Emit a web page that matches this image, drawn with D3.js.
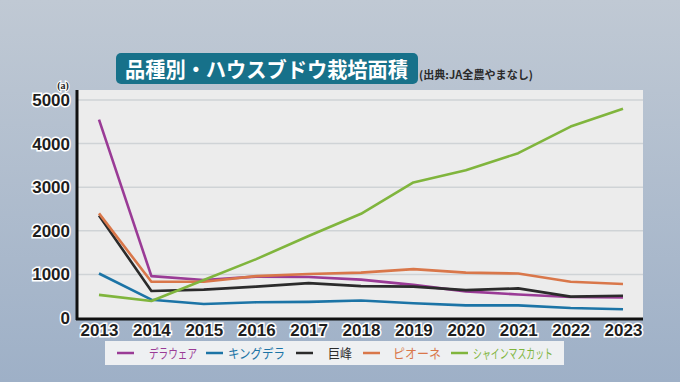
<!DOCTYPE html>
<html><head><meta charset="utf-8">
<script src="https://cdn.jsdelivr.net/npm/d3@7"></script>
<style>body{margin:0;padding:0;overflow:hidden}svg{display:block}</style>
</head><body>
<script>
const years = [2013,2014,2015,2016,2017,2018,2019,2020,2021,2022,2023];
const seriesNames = ["デラウェア","キングデラ","巨峰","ピオーネ","シャインマスカット"];
const delaware = [4550,960,870,950,940,880,760,610,540,480,470];
const kingDela = [1020,420,320,360,370,400,340,290,290,230,200];
const kyoho = [2350,620,650,720,800,730,720,640,680,490,510];
const pione = [2400,830,830,960,1010,1040,1120,1040,1020,830,780];
const shine = [530,390,870,1350,1880,2390,3110,3390,3780,4390,4800];
const yTicks = [0,1000,2000,3000,4000,5000];
const colors = ["#9a3b96","#1c74a6","#2b2b2b","#d9774a","#80b53d"];
const allSeries = [delaware,kingDela,kyoho,pione,shine];

(function(){
const W=680,H=382;
const svg=d3.select("body").append("svg").attr("width",W).attr("height",H);
const defs=svg.append("defs");
const bg=defs.append("linearGradient").attr("id","bg").attr("x1",0).attr("y1",0).attr("x2",0).attr("y2",1);
bg.append("stop").attr("offset","0%").attr("stop-color","#c0c9d4");
bg.append("stop").attr("offset","100%").attr("stop-color","#9eb0c7");
svg.append("rect").attr("width",W).attr("height",H).attr("fill","url(#bg)");

const pL=77,pR=643,pT=90,pB=318;
const x=d3.scalePoint().domain(years).range([99,623]);
const y=d3.scaleLinear().domain([0,5000]).range([pB,100]);

svg.append("rect").attr("x",pL).attr("y",pT).attr("width",pR-pL).attr("height",pB-pT).attr("fill","#ececec");

svg.append("g").selectAll("line").data(yTicks.filter(d=>d>0)).join("line")
 .attr("x1",pL).attr("x2",pR).attr("y1",d=>y(d)).attr("y2",d=>y(d))
 .attr("stroke","#cfd3d6").attr("stroke-width",1.5);

const yAxis=d3.axisLeft(y).tickValues(yTicks).tickSize(0).tickPadding(6).tickFormat(d3.format("d"));
const ya=svg.append("g").attr("transform",`translate(${pL},0)`).call(yAxis);
ya.select(".domain").remove();
ya.selectAll("text").attr("font-family","Liberation Sans, Arial, sans-serif").attr("font-weight","bold")
 .attr("font-size",17).attr("fill","#1e1e1e").attr("stroke","#ffffff").attr("stroke-width",3).attr("paint-order","stroke").attr("dx",-1);

const xAxis=d3.axisBottom(x).tickSize(0).tickPadding(6).tickFormat(d3.format("d"));
const xa=svg.append("g").attr("transform",`translate(0,${pB})`).call(xAxis);
xa.select(".domain").remove();
xa.selectAll("text").attr("font-family","Liberation Sans, Arial, sans-serif").attr("font-weight","bold")
 .attr("font-size",17).attr("fill","#1e1e1e").attr("stroke","#ffffff").attr("stroke-width",3).attr("paint-order","stroke");

svg.append("line").attr("x1",pL).attr("x2",pL).attr("y1",pT).attr("y2",pB+2).attr("stroke","#111").attr("stroke-width",3);
svg.append("line").attr("x1",pL-1).attr("x2",pR).attr("y1",pB+1).attr("y2",pB+1).attr("stroke","#111").attr("stroke-width",3);

svg.append("text").attr("x",63).attr("y",89).attr("text-anchor","middle").attr("font-family","Liberation Serif, serif")
 .attr("font-size",10).attr("font-weight","bold").attr("fill","#222").attr("stroke","#fff").attr("stroke-width",2).attr("paint-order","stroke").text("(a)");

const line=d3.line().x((d,i)=>x(years[i])).y(d=>y(d));
allSeries.forEach((s,i)=>{
  svg.append("path").datum(s).attr("d",line).attr("fill","none").attr("stroke",colors[i]).attr("stroke-width",2.6).attr("stroke-linejoin","round");
});

svg.append("rect").attr("x",116).attr("y",53).attr("width",302).attr("height",31).attr("rx",5).attr("fill","#17718a");
svg.append("text").attr("x",125).attr("y",77).attr("font-family","Noto Sans CJK JP, sans-serif")
 .attr("font-weight","bold").attr("font-size",21).attr("fill","#ffffff")
 .attr("textLength",283).attr("lengthAdjust","spacingAndGlyphs").text("品種別・ハウスブドウ栽培面積");
svg.append("text").attr("x",419).attr("y",79).attr("font-family","Noto Sans CJK JP, sans-serif").attr("font-weight","bold")
 .attr("font-size",11).attr("fill","#2a2a2a").attr("textLength",114).attr("lengthAdjust","spacingAndGlyphs").text("(出典:JA全農やまなし)");

svg.append("rect").attr("x",105).attr("y",341).attr("width",459).attr("height",24).attr("fill","#eef0f2");
const lx=[117,206,296,363,451];
const tx=[149,228,328,393,473];
const tw=[48,57,24,48,80];
seriesNames.forEach((n,i)=>{
  svg.append("line").attr("x1",lx[i]).attr("x2",lx[i]+17).attr("y1",353).attr("y2",353).attr("stroke",colors[i]).attr("stroke-width",2.5);
  svg.append("text").attr("x",tx[i]).attr("y",358).attr("font-family","Noto Sans CJK JP, sans-serif")
   .attr("font-size",13).attr("fill",colors[i]).attr("textLength",tw[i]).attr("lengthAdjust","spacingAndGlyphs").text(n);
});
})();
</script>
</body></html>
